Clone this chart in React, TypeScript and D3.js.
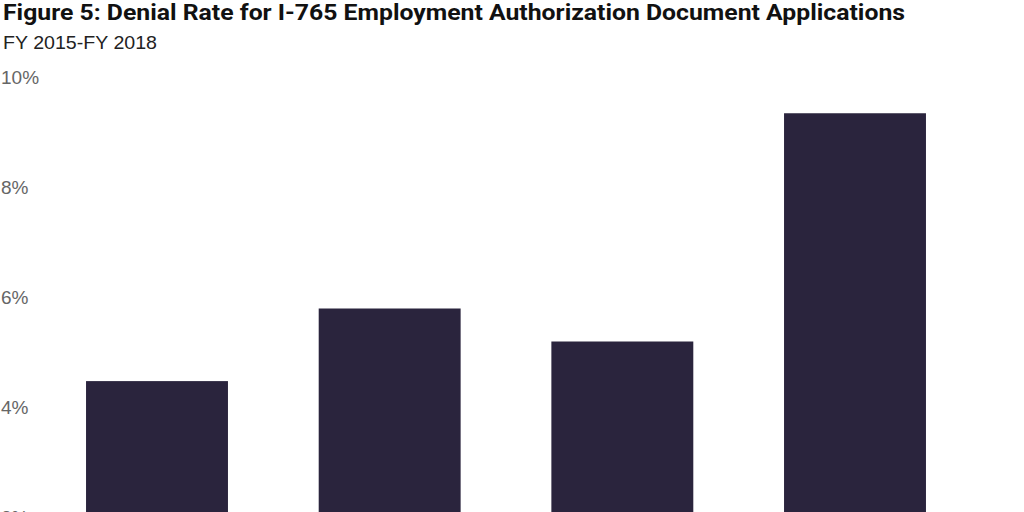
import * as React from 'react'
import { useEffect, useRef } from 'react'
import * as d3 from 'd3'

const fiscalYears = ['FY 2015', 'FY 2016', 'FY 2017', 'FY 2018']
const denialRates = [4.48, 5.8, 5.2, 9.35]
const yTicks = [0, 2, 4, 6, 8, 10]

const title = 'Figure 5: Denial Rate for I-765 Employment Authorization Document Applications'
const subtitle = 'FY 2015-FY 2018'

const width = 1024
const height = 512

export default function App() {
  const svgRef = useRef<SVGSVGElement>(null)

  useEffect(() => {
    document.body.style.margin = '0'
    if (!svgRef.current) return

    const svg = d3.select(svgRef.current)
    svg.selectAll('*').remove()

    // y: 0% sits below the visible area, like the cropped original
    const y = d3.scaleLinear().domain([0, 10]).range([627.5, 77.5])
    const x = d3.scaleBand<string>()
      .domain(fiscalYears)
      .range([39.5, 972.5])
      .paddingInner(0.39)
      .paddingOuter(0.2)

    // Title + subtitle
    svg.append('text')
      .attr('x', 3)
      .attr('y', 20)
      .attr('font-family', 'Roboto, "Liberation Sans", sans-serif')
      .attr('font-weight', 700)
      .attr('font-size', '22px')
      .attr('fill', '#111')
      .attr('textLength', 902)
      .attr('lengthAdjust', 'spacingAndGlyphs')
      .text(title)

    svg.append('text')
      .attr('x', 3)
      .attr('y', 49)
      .attr('font-family', '"Liberation Sans", Arial, sans-serif')
      .attr('font-size', '19px')
      .attr('fill', '#222')
      .attr('textLength', 154)
      .attr('lengthAdjust', 'spacingAndGlyphs')
      .text(subtitle)

    // Y tick labels (no gridlines); lower ones fall past the frame, as in the original
    svg.append('g')
      .selectAll('text')
      .data(yTicks)
      .join('text')
      .attr('x', 1)
      .attr('y', d => y(d))
      .attr('dy', '0.35em')
      .attr('font-family', '"Liberation Sans", Arial, sans-serif')
      .attr('font-size', '19px')
      .attr('fill', '#666')
      .text(d => `${d}%`)

    // Bars
    svg.append('g')
      .selectAll('rect')
      .data(denialRates)
      .join('rect')
      .attr('x', (d, i) => x(fiscalYears[i]) as number)
      .attr('y', d => y(d))
      .attr('width', x.bandwidth())
      .attr('height', d => y(0) - y(d))
      .attr('fill', '#2a243d')

    // Category labels (below the visible window)
    svg.append('g')
      .selectAll('text')
      .data(fiscalYears)
      .join('text')
      .attr('x', d => (x(d) as number) + x.bandwidth() / 2)
      .attr('y', y(0) + 24)
      .attr('text-anchor', 'middle')
      .attr('font-family', '"Liberation Sans", Arial, sans-serif')
      .attr('font-size', '19px')
      .attr('fill', '#666')
      .text(d => d)
  }, [])

  return (
    <svg
      ref={svgRef}
      width={width}
      height={height}
      style={{ display: 'block', background: '#fff' }}
    />
  )
}
